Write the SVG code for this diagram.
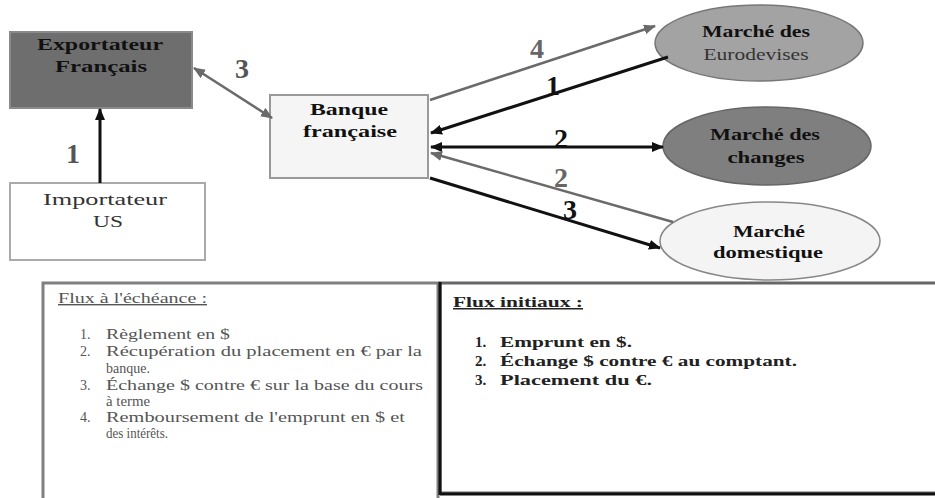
<svg xmlns="http://www.w3.org/2000/svg" width="935" height="498" viewBox="0 0 935 498">
<defs>
<style>
text{font-family:"Liberation Serif","Times New Roman",serif}
.nb{font-size:16px;font-weight:bold;fill:#111;text-anchor:middle}
.nn{font-size:16px;fill:#333;text-anchor:middle}
.num{font-size:28px;font-weight:bold;text-anchor:middle}
.lt{font-size:14px;fill:#555}
.rt{font-size:15px;font-weight:bold;fill:#222}
.lk{stroke:#111;stroke-width:3;fill:none}
.lg{stroke:#6a6a6a;stroke-width:2.5;fill:none}
</style>
<marker id="ak" viewBox="0 0 12 10" refX="11" refY="5" markerWidth="12" markerHeight="10" markerUnits="userSpaceOnUse" orient="auto-start-reverse"><path d="M0,0 L12,5 L0,10 z" fill="#111"/></marker>
<marker id="ag" viewBox="0 0 12 10" refX="11" refY="5" markerWidth="12" markerHeight="10" markerUnits="userSpaceOnUse" orient="auto-start-reverse"><path d="M0,0 L12,5 L0,10 z" fill="#6a6a6a"/></marker>
</defs>
<rect width="935" height="498" fill="#fff"/>

<g id="exportateur">
<rect x="10" y="32" width="182" height="76" fill="#6e6e6e" stroke="#8a8a8a" stroke-width="2"/>
<text class="nb" x="100" y="50" textLength="126" lengthAdjust="spacingAndGlyphs">Exportateur</text>
<text class="nb" x="101" y="72" textLength="92" lengthAdjust="spacingAndGlyphs">Français</text>
</g>

<g id="importateur">
<rect x="10" y="183" width="195" height="77" fill="#fff" stroke="#aaa" stroke-width="2"/>
<text class="nn" x="105" y="205" textLength="124" lengthAdjust="spacingAndGlyphs">Importateur</text>
<text class="nn" x="108" y="227" textLength="30" lengthAdjust="spacingAndGlyphs">US</text>
</g>

<g id="banque">
<rect x="270" y="95" width="158" height="83" fill="#f5f5f5" stroke="#999" stroke-width="2"/>
<text class="nb" x="349" y="115" textLength="78" lengthAdjust="spacingAndGlyphs">Banque</text>
<text class="nb" x="350" y="137" textLength="94" lengthAdjust="spacingAndGlyphs">française</text>
</g>

<g id="eurodevises">
<ellipse cx="759" cy="43" rx="104" ry="38" fill="#a3a3a3" stroke="#777" stroke-width="1.5"/>
<text class="nb" x="756" y="37" textLength="108" lengthAdjust="spacingAndGlyphs">Marché des</text>
<text class="nn" x="756" y="60" textLength="105" lengthAdjust="spacingAndGlyphs" fill="#444">Eurodevises</text>
</g>

<g id="changes">
<ellipse cx="767" cy="146" rx="104" ry="39" fill="#7f7f7f" stroke="#666" stroke-width="1.5"/>
<text class="nb" x="765" y="140" textLength="110" lengthAdjust="spacingAndGlyphs">Marché des</text>
<text class="nb" x="766" y="163" textLength="77" lengthAdjust="spacingAndGlyphs">changes</text>
</g>

<g id="domestique">
<ellipse cx="770" cy="241" rx="110" ry="39" fill="#f4f4f4" stroke="#888" stroke-width="1.5"/>
<text class="nb" x="769" y="237" textLength="72" lengthAdjust="spacingAndGlyphs" fill="#222">Marché</text>
<text class="nb" x="768" y="258" textLength="110" lengthAdjust="spacingAndGlyphs" fill="#222">domestique</text>
</g>

<g id="connectors">
<line class="lk" x1="100" y1="183" x2="100" y2="109" marker-end="url(#ak)"/>
<line class="lg" x1="194" y1="68" x2="272" y2="118" marker-start="url(#ag)" marker-end="url(#ag)"/>
<line class="lg" x1="430" y1="100" x2="655" y2="26" marker-end="url(#ag)"/>
<line class="lk" x1="668" y1="57" x2="431" y2="133" marker-end="url(#ak)"/>
<line class="lk" x1="431" y1="147" x2="663" y2="147" marker-start="url(#ak)" marker-end="url(#ak)"/>
<line class="lg" x1="673" y1="222" x2="431" y2="153" marker-end="url(#ag)"/>
<line class="lk" x1="430" y1="178" x2="660" y2="248" marker-end="url(#ak)"/>
<text class="num" x="73" y="163" fill="#555">1</text>
<text class="num" x="242" y="78" fill="#555">3</text>
<text class="num" x="537" y="58" fill="#666">4</text>
<text class="num" x="553" y="95" fill="#111">1</text>
<text class="num" x="561" y="148" fill="#111">2</text>
<text class="num" x="561" y="187" fill="#666">2</text>
<text class="num" x="570" y="219" fill="#111">3</text>
</g>

<g id="flux-echeance">
<rect x="43" y="283" width="395" height="230" fill="#fff" stroke="#808080" stroke-width="3"/>
<text class="lt" x="58" y="303" textLength="149" lengthAdjust="spacingAndGlyphs" text-decoration="underline">Flux à l'échéance :</text>
<text class="lt" x="80" y="339">1.</text>
<text class="lt" x="106" y="339" textLength="124" lengthAdjust="spacingAndGlyphs">Règlement en $</text>
<text class="lt" x="80" y="356">2.</text>
<text class="lt" x="106" y="356" textLength="316" lengthAdjust="spacingAndGlyphs">Récupération du placement en € par la</text>
<text class="lt" x="106" y="373" textLength="44" lengthAdjust="spacingAndGlyphs">banque.</text>
<text class="lt" x="80" y="390">3.</text>
<text class="lt" x="106" y="390" textLength="317" lengthAdjust="spacingAndGlyphs">Échange $ contre € sur la base du cours</text>
<text class="lt" x="106" y="406" textLength="44" lengthAdjust="spacingAndGlyphs">à terme</text>
<text class="lt" x="80" y="422">4.</text>
<text class="lt" x="106" y="422" textLength="299" lengthAdjust="spacingAndGlyphs">Remboursement de l'emprunt en $ et</text>
<text class="lt" x="106" y="438" textLength="62" lengthAdjust="spacingAndGlyphs">des intérêts.</text>
</g>

<g id="flux-initiaux">
<rect x="440" y="283" width="510" height="210" fill="#fff" stroke="#666" stroke-width="3"/>
<line x1="440" y1="282" x2="440" y2="495" stroke="#111" stroke-width="3"/>
<line x1="440" y1="494" x2="935" y2="494" stroke="#111" stroke-width="3"/>
<text class="rt" x="453" y="307" textLength="130" lengthAdjust="spacingAndGlyphs" text-decoration="underline">Flux initiaux :</text>
<text class="rt" x="475" y="347">1.</text>
<text class="rt" x="500" y="347" textLength="132" lengthAdjust="spacingAndGlyphs">Emprunt en $.</text>
<text class="rt" x="475" y="366">2.</text>
<text class="rt" x="500" y="366" textLength="297" lengthAdjust="spacingAndGlyphs">Échange $ contre € au comptant.</text>
<text class="rt" x="475" y="385">3.</text>
<text class="rt" x="500" y="385" textLength="152" lengthAdjust="spacingAndGlyphs">Placement du €.</text>
</g>
</svg>
